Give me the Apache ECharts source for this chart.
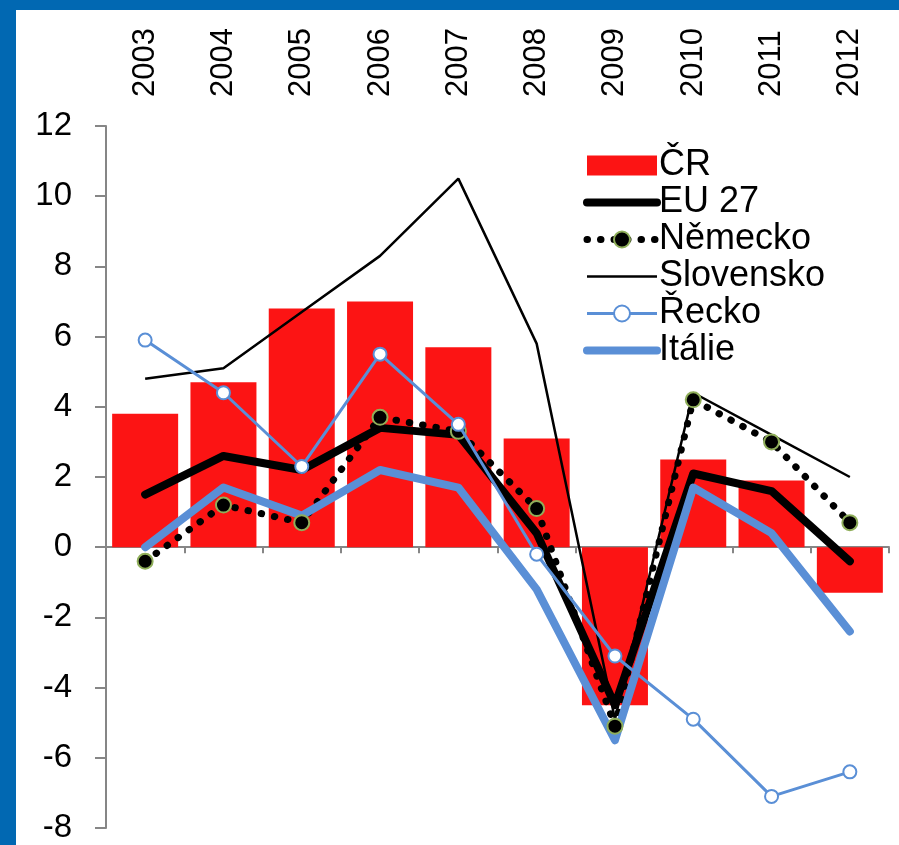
<!DOCTYPE html>
<html>
<head>
<meta charset="utf-8">
<script src="https://cdn.jsdelivr.net/npm/echarts@6/dist/echarts.min.js"></script>
<style>
  html, body { margin: 0; padding: 0; width: 899px; height: 845px; overflow: hidden; background: #0168b2; }
  #chart { position: absolute; left: 16px; top: 10px; width: 883px; height: 835px; background: #fff; }
</style>
</head>
<body>
<div id="chart"></div>
<script>
// ============ 数据 ============
const years = ['2003', '2004', '2005', '2006', '2007', '2008', '2009', '2010', '2011', '2012']
const cr = [3.8, 4.7, 6.8, 7.0, 5.7, 3.1, -4.5, 2.5, 1.9, -1.3]
const eu27 = [1.5, 2.6, 2.2, 3.4, 3.2, 0.4, -4.5, 2.1, 1.6, -0.4]
const nemecko = [-0.4, 1.2, 0.7, 3.7, 3.3, 1.1, -5.1, 4.2, 3.0, 0.7]
const slovensko = [4.8, 5.1, 6.7, 8.3, 10.5, 5.8, -4.9, 4.4, 3.2, 2.0]
const recko = [5.9, 4.4, 2.3, 5.5, 3.5, -0.2, -3.1, -4.9, -7.1, -6.4]
const italie = [0.0, 1.7, 0.9, 2.2, 1.7, -1.2, -5.5, 1.7, 0.4, -2.4]

// ============ 样式常量 ============
const FONT = '"Liberation Sans", Arial, sans-serif'
const BLUE = '#5a8fd6'
const AXIS = '#868686'
const NO_SYMBOL = { color: 'rgba(0,0,0,0)', borderWidth: 0 }

const chart = echarts.init(document.getElementById('chart'))

chart.setOption({
  animation: false,
  textStyle: { fontFamily: FONT },
  grid: { left: 90, right: 10, top: 116, bottom: 17 },
  legend: {
    orient: 'vertical',
    left: 562,
    top: 132,
    itemWidth: 70,
    itemHeight: 20,
    itemGap: 0,
    textStyle: { fontSize: 36, lineHeight: 37, color: '#000', fontFamily: FONT, padding: [0, 0, 0, -3] },
    data: [
      { name: 'ČR', icon: 'rect' },
      { name: 'EU 27', itemStyle: NO_SYMBOL, lineStyle: { width: 8, cap: 'round' } },
      { name: 'Německo', lineStyle: { width: 7, type: [0.5, 13], cap: 'round' } },
      { name: 'Slovensko', itemStyle: NO_SYMBOL, lineStyle: { width: 2.5 } },
      { name: 'Řecko', lineStyle: { width: 3 } },
      { name: 'Itálie', itemStyle: NO_SYMBOL, lineStyle: { width: 8, cap: 'round' } }
    ]
  },
  xAxis: [
    {
      type: 'category',
      data: years,
      position: 'bottom',
      axisLine: { onZero: true, lineStyle: { color: AXIS, width: 2 } },
      axisTick: { show: true, length: 6, lineStyle: { color: AXIS, width: 2 } },
      axisLabel: { show: false },
      splitLine: { show: false }
    },
    {
      type: 'category',
      data: years,
      position: 'top',
      axisLine: { show: false },
      axisTick: { show: false },
      axisLabel: { rotate: -90, fontSize: 31, color: '#000', margin: 29, fontFamily: FONT },
      splitLine: { show: false }
    }
  ],
  yAxis: {
    type: 'value',
    min: -8,
    max: 12,
    interval: 2,
    axisLine: { show: true, lineStyle: { color: AXIS, width: 2 } },
    axisTick: { show: true, length: 11, lineStyle: { color: AXIS, width: 2 } },
    axisLabel: { fontSize: 33, color: '#000', margin: 34, fontFamily: FONT },
    splitLine: { show: false }
  },
  series: [
    {
      name: 'ČR',
      type: 'bar',
      data: cr,
      barWidth: 66,
      itemStyle: { color: '#fc1414' }
    },
    {
      name: 'EU 27',
      type: 'line',
      data: eu27,
      symbol: 'none',
      lineStyle: { color: '#000', width: 8, cap: 'round', join: 'round' },
      itemStyle: { color: '#000' }
    },
    {
      name: 'Německo',
      type: 'line',
      data: nemecko,
      symbol: 'circle',
      symbolSize: 15,
      lineStyle: { color: '#000', width: 7, type: [0.5, 13], cap: 'round' },
      itemStyle: { color: '#000', borderColor: '#8fae5a', borderWidth: 2 }
    },
    {
      name: 'Slovensko',
      type: 'line',
      data: slovensko,
      symbol: 'none',
      lineStyle: { color: '#000', width: 2.5 },
      itemStyle: { color: '#000' }
    },
    {
      name: 'Řecko',
      type: 'line',
      data: recko,
      symbol: 'circle',
      symbolSize: 13,
      z: 4,
      lineStyle: { color: BLUE, width: 3 },
      itemStyle: { color: '#fff', borderColor: BLUE, borderWidth: 2 }
    },
    {
      name: 'Itálie',
      type: 'line',
      data: italie,
      symbol: 'none',
      lineStyle: { color: BLUE, width: 8, cap: 'round', join: 'round' },
      itemStyle: { color: BLUE }
    }
  ]
})
</script>
</body>
</html>
